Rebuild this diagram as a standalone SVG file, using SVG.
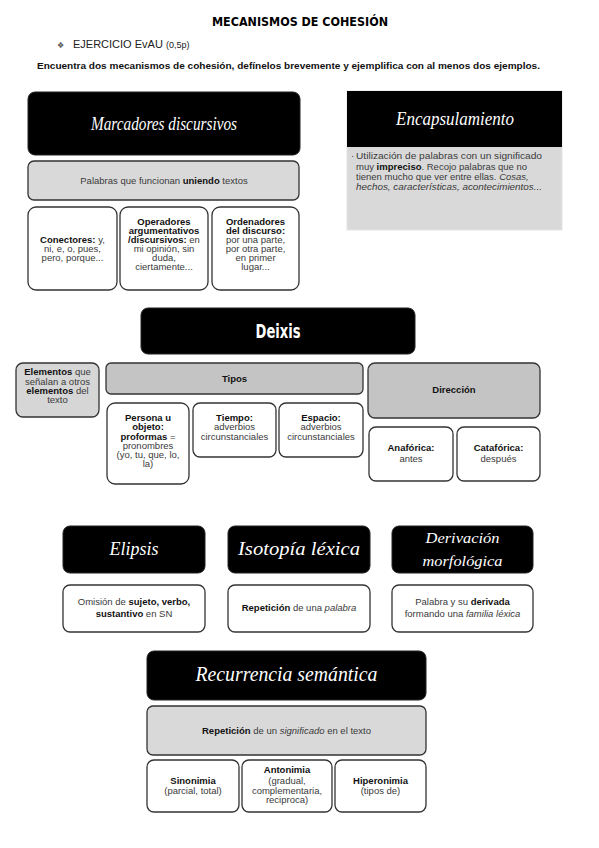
<svg xmlns="http://www.w3.org/2000/svg" width="599" height="848" viewBox="0 0 599 848">
<style>
text{font-family:"Liberation Sans",Arial,sans-serif;font-size:9.5px;fill:#3a3a3a;text-anchor:middle}
.b{font-weight:bold;fill:#111}
.i{font-style:italic}
.blk{fill:#000;stroke:#222;stroke-width:1}
.wb{fill:#fff;stroke:#333;stroke-width:1.3}
.lg{fill:#d9d9d9;stroke:#333;stroke-width:1.3}
.dg{fill:#c4c4c4;stroke:#333;stroke-width:1.3}
.scr{font-family:"Liberation Serif","DejaVu Serif",serif;font-style:italic;fill:#fff}
.hd{font-family:"DejaVu Sans",sans-serif;font-weight:bold;fill:#000}
.l{text-anchor:start}
</style>
<rect width="599" height="848" fill="#fff"/>
<g id="header">
<text x="300" y="26" class="hd" style="font-size:12.5px" textLength="176" lengthAdjust="spacingAndGlyphs">MECANISMOS DE COHESIÓN</text>
<text x="57" y="48" class="l" style="fill:#555;font-size:8px">❖</text>
<text x="73" y="48" class="l" style="fill:#222;font-size:11px">EJERCICIO EvAU <tspan style="font-size:9px">(0,5p)</tspan></text>
<text x="37" y="69" class="b l" textLength="503" lengthAdjust="spacingAndGlyphs">Encuentra dos mecanismos de cohesión, defínelos brevemente y ejemplifica con al menos dos ejemplos.</text>
</g>
<g id="marcadores">
<rect class="blk" x="28" y="92" width="272" height="63" rx="7"/>
<text x="164" y="130" class="scr" style="font-size:19px" textLength="146" lengthAdjust="spacingAndGlyphs">Marcadores discursivos</text>
</g>
<g id="marcadores-def">
<rect class="lg" x="28" y="161" width="271" height="39" rx="6"/>
<text x="164" y="184">Palabras que funcionan <tspan class="b">uniendo</tspan> textos</text>
</g>
<g id="conectores">
<rect class="wb" x="28" y="207" width="89" height="83" rx="8"/>
<text x="72.5" y="243"><tspan class="b">Conectores:</tspan> y,</text>
<text x="72.5" y="252">ni, e, o, pues,</text>
<text x="72.5" y="261">pero, porque...</text>
</g>
<g id="operadores">
<rect class="wb" x="120" y="207" width="88" height="83" rx="8"/>
<text x="164" y="225" class="b">Operadores</text>
<text x="164" y="234" class="b">argumentativos</text>
<text x="164" y="243"><tspan class="b">/discursivos:</tspan> en</text>
<text x="164" y="252">mi opinión, sin</text>
<text x="164" y="261">duda,</text>
<text x="164" y="270">ciertamente...</text>
</g>
<g id="ordenadores">
<rect class="wb" x="212" y="207" width="87" height="83" rx="8"/>
<text x="255.5" y="225" class="b">Ordenadores</text>
<text x="255.5" y="234" class="b">del discurso:</text>
<text x="255.5" y="243">por una parte,</text>
<text x="255.5" y="252">por otra parte,</text>
<text x="255.5" y="261">en primer</text>
<text x="255.5" y="270">lugar...</text>
</g>
<g id="encapsulamiento">
<rect x="347" y="91" width="215" height="139" fill="#d9d9d9" stroke="#e4e4e4" stroke-width="1"/>
<rect x="347" y="91" width="215" height="56" fill="#000"/>
<text x="455" y="125" class="scr" style="font-size:18px" textLength="118" lengthAdjust="spacingAndGlyphs">Encapsulamiento</text>
<text x="351" y="159" class="l">·</text>
<text x="356" y="159" class="l" textLength="186" lengthAdjust="spacingAndGlyphs">Utilización de palabras con un significado</text>
<text x="356" y="170" class="l">muy <tspan class="b">impreciso</tspan>. Recojo palabras que no</text>
<text x="356" y="180" class="l">tienen mucho que ver entre ellas. <tspan class="i">Cosas,</tspan></text>
<text x="356" y="190" class="l i" textLength="186" lengthAdjust="spacingAndGlyphs">hechos, características, acontecimientos...</text>
</g>
<g id="deixis">
<rect class="blk" x="141" y="308" width="274" height="46" rx="7"/>
<text x="278" y="338" style="font-family:'DejaVu Sans Condensed','DejaVu Sans',sans-serif;font-weight:bold;font-size:19px;fill:#fff;font-stretch:condensed" textLength="45" lengthAdjust="spacingAndGlyphs">Deixis</text>
</g>
<g id="elementos">
<rect x="16" y="363" width="83" height="54" rx="7" fill="#d6d6d6" stroke="#333" stroke-width="1.3"/>
<text x="57.5" y="375"><tspan class="b">Elementos</tspan> que</text>
<text x="57.5" y="385">señalan a otros</text>
<text x="57.5" y="394"><tspan class="b">elementos</tspan> del</text>
<text x="57.5" y="403">texto</text>
</g>
<g id="tipos">
<rect class="dg" x="106" y="363" width="257" height="31" rx="5"/>
<text x="234.5" y="382" class="b">Tipos</text>
</g>
<g id="persona">
<rect class="wb" x="107" y="403" width="82" height="81" rx="8"/>
<text x="148" y="421" class="b">Persona u</text>
<text x="148" y="430" class="b">objeto:</text>
<text x="148" y="440"><tspan class="b">proformas</tspan> =</text>
<text x="148" y="449">pronombres</text>
<text x="148" y="458">(yo, tu, que, lo,</text>
<text x="148" y="467">la)</text>
</g>
<g id="tiempo">
<rect class="wb" x="193" y="403" width="83" height="54" rx="7"/>
<text x="234.5" y="421" class="b">Tiempo:</text>
<text x="234.5" y="430">adverbios</text>
<text x="234.5" y="440">circunstanciales</text>
</g>
<g id="espacio">
<rect class="wb" x="279" y="403" width="84" height="54" rx="7"/>
<text x="321" y="421" class="b">Espacio:</text>
<text x="321" y="430">adverbios</text>
<text x="321" y="440">circunstanciales</text>
</g>
<g id="direccion">
<rect class="dg" x="368" y="363" width="172" height="55" rx="7"/>
<text x="454" y="393" class="b">Dirección</text>
</g>
<g id="anaforica">
<rect class="wb" x="369" y="427" width="84" height="54" rx="7"/>
<text x="411" y="451" class="b">Anafórica:</text>
<text x="411" y="462">antes</text>
</g>
<g id="cataforica">
<rect class="wb" x="457" y="427" width="83" height="54" rx="7"/>
<text x="498.5" y="451" class="b">Catafórica:</text>
<text x="498.5" y="462">después</text>
</g>
<g id="elipsis">
<rect class="blk" x="63" y="526" width="142" height="47" rx="7"/>
<text x="134" y="555" class="scr" style="font-size:18px">Elipsis</text>
</g>
<g id="elipsis-def">
<rect class="wb" x="63" y="585" width="142" height="47" rx="7"/>
<text x="134" y="605">Omisión de <tspan class="b">sujeto, verbo,</tspan></text>
<text x="134" y="617"><tspan class="b">sustantivo</tspan> en SN</text>
</g>
<g id="isotopia">
<rect class="blk" x="228" y="526" width="142" height="47" rx="7"/>
<text x="299" y="555" class="scr" style="font-size:18px" textLength="122" lengthAdjust="spacingAndGlyphs">Isotopía léxica</text>
</g>
<g id="isotopia-def">
<rect class="wb" x="228" y="585" width="142" height="47" rx="7"/>
<text x="299" y="611"><tspan class="b">Repetición</tspan> de una <tspan class="i">palabra</tspan></text>
</g>
<g id="derivacion">
<rect class="blk" x="392" y="526" width="141" height="47" rx="7"/>
<text x="462.5" y="543" class="scr" style="font-size:15px" textLength="74" lengthAdjust="spacingAndGlyphs">Derivación</text>
<text x="462.5" y="566" class="scr" style="font-size:15px" textLength="80" lengthAdjust="spacingAndGlyphs">morfológica</text>
</g>
<g id="derivacion-def">
<rect class="wb" x="392" y="585" width="141" height="47" rx="7"/>
<text x="462.5" y="605">Palabra y su <tspan class="b">derivada</tspan></text>
<text x="462.5" y="617">formando una <tspan class="i">familia léxica</tspan></text>
</g>
<g id="recurrencia">
<rect class="blk" x="147" y="651" width="279" height="49" rx="7"/>
<text x="286.5" y="681" class="scr" style="font-size:20px" textLength="182" lengthAdjust="spacingAndGlyphs">Recurrencia semántica</text>
</g>
<g id="recurrencia-def">
<rect class="lg" x="147" y="706" width="279" height="49" rx="6"/>
<text x="286.5" y="734"><tspan class="b">Repetición</tspan> de un <tspan class="i">significado</tspan> en el texto</text>
</g>
<g id="sinonimia">
<rect class="wb" x="147" y="760" width="92" height="52" rx="7"/>
<text x="193" y="784" class="b">Sinonimia</text>
<text x="193" y="794">(parcial, total)</text>
</g>
<g id="antonimia">
<rect class="wb" x="242" y="760" width="90" height="52" rx="7"/>
<text x="287" y="773" class="b">Antonimia</text>
<text x="287" y="784">(gradual,</text>
<text x="287" y="794">complementaria,</text>
<text x="287" y="803">reciproca)</text>
</g>
<g id="hiperonimia">
<rect class="wb" x="335" y="760" width="91" height="52" rx="7"/>
<text x="380.5" y="784" class="b">Hiperonimia</text>
<text x="380.5" y="794">(tipos de)</text>
</g>
<g id="connectors"></g>
</svg>
